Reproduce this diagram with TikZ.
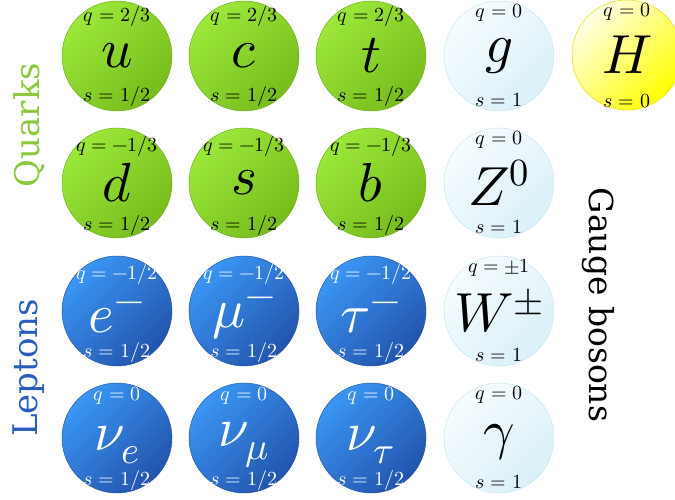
\documentclass[tikz,border=0pt]{standalone}
\usepackage{fontspec}
\usepackage{unicode-math}
\newfontfamily\smGroupFont{DejaVu Serif}
\definecolor{smQuarkLight}{HTML}{9CE83A}
\definecolor{smQuarkDark}{HTML}{76BC1C}
\definecolor{smQuarkEdge}{HTML}{72AE22}
\definecolor{smQuarkText}{HTML}{8CC83C}
\definecolor{smLeptonLight}{HTML}{3A96F4}
\definecolor{smLeptonDark}{HTML}{2254AC}
\definecolor{smLeptonEdge}{HTML}{2458A8}
\definecolor{smLeptonText}{HTML}{2A5CBE}
\definecolor{smBosonLight}{HTML}{F6FCFE}
\definecolor{smBosonDark}{HTML}{DAF0F8}
\definecolor{smBosonEdge}{HTML}{C4E6F4}
\definecolor{smHiggsLight}{HTML}{FFFFE8}
\definecolor{smHiggsDark}{HTML}{FFFF00}
\definecolor{smHiggsEdge}{HTML}{E6DC00}

\begin{document}
\begin{tikzpicture}[x=1pt,y=-1pt,
  ball/.style={circle, minimum size=110pt, inner sep=0pt, line width=0.5pt},
  quark/.style={ball, draw=smQuarkEdge, top color=smQuarkLight, bottom color=smQuarkDark, shading angle=45},
  lepton/.style={ball, draw=smLeptonEdge, top color=smLeptonLight, bottom color=smLeptonDark, shading angle=45},
  boson/.style={ball, draw=smBosonEdge, top color=smBosonLight, bottom color=smBosonDark, shading angle=45},
  higgs/.style={ball, draw=smHiggsEdge, top color=smHiggsLight, bottom color=smHiggsDark, shading angle=45},
  sym/.style={inner sep=0pt, font={\fontsize{55}{60}\selectfont}},
  prop/.style={inner sep=0pt, font={\fontsize{20}{24}\selectfont}},
  group/.style={inner sep=0pt, font={\smGroupFont\fontsize{34}{40}\selectfont}}]
\useasboundingbox (0,0) rectangle (675,500);
% quarks
\node[quark] (u) at (117,56) {};
\node[sym] (uSym) at (u) {$u$};
\node[prop] (uQ) at (117,17) {$q=2/3$};
\node[prop] (uS) at (117,97) {$s=1/2$};
\node[quark] (c) at (244,56) {};
\node[sym] (cSym) at (c) {$c$};
\node[prop] (cQ) at (244,17) {$q=2/3$};
\node[prop] (cS) at (244,97) {$s=1/2$};
\node[quark] (t) at (371,56) {};
\node[sym] (tSym) at (t) {$t$};
\node[prop] (tQ) at (371,17) {$q=2/3$};
\node[prop] (tS) at (371,97) {$s=1/2$};
\node[quark] (d) at (117,183) {};
\node[sym] (dSym) at (d) {$d$};
\node[prop] (dQ) at (117,147) {$q=-1/3$};
\node[prop] (dS) at (117,225) {$s=1/2$};
\node[quark] (s) at (244,183) {};
\node[sym] (sSym) at (s) {$s$};
\node[prop] (sQ) at (244,147) {$q=-1/3$};
\node[prop] (sS) at (244,225) {$s=1/2$};
\node[quark] (b) at (371,183) {};
\node[sym] (bSym) at (b) {$b$};
\node[prop] (bQ) at (371,147) {$q=-1/3$};
\node[prop] (bS) at (371,225) {$s=1/2$};
% leptons
\node[lepton] (e) at (117,311) {};
\node[sym, text=white] (eSym) at (117,318) {$e^-$};
\node[prop, text=white] (eQ) at (117,274) {$q=-1/2$};
\node[prop, text=white] (eS) at (117,352) {$s=1/2$};
\node[lepton] (mu) at (244,311) {};
\node[sym, text=white] (muSym) at (244,318) {$\mu^-$};
\node[prop, text=white] (muQ) at (244,274) {$q=-1/2$};
\node[prop, text=white] (muS) at (244,352) {$s=1/2$};
\node[lepton] (tau) at (371,311) {};
\node[sym, text=white] (tauSym) at (371,318) {$\tau^-$};
\node[prop, text=white] (tauQ) at (371,274) {$q=-1/2$};
\node[prop, text=white] (tauS) at (371,352) {$s=1/2$};
\node[lepton] (nue) at (117,438) {};
\node[sym, text=white] (nueSym) at (117,445) {$\nu_e$};
\node[prop, text=white] (nueQ) at (117,396) {$q=0$};
\node[prop, text=white] (nueS) at (117,480) {$s=1/2$};
\node[lepton] (numu) at (244,438) {};
\node[sym, text=white] (numuSym) at (244,445) {$\nu_\mu$};
\node[prop, text=white] (numuQ) at (244,396) {$q=0$};
\node[prop, text=white] (numuS) at (244,480) {$s=1/2$};
\node[lepton] (nutau) at (371,438) {};
\node[sym, text=white] (nutauSym) at (371,445) {$\nu_\tau$};
\node[prop, text=white] (nutauQ) at (371,396) {$q=0$};
\node[prop, text=white] (nutauS) at (371,480) {$s=1/2$};
% gauge bosons and higgs
\node[boson] (g) at (499,56) {};
\node[sym] (gSym) at (g) {$g$};
\node[prop] (gQ) at (499,13) {$q=0$};
\node[prop] (gS) at (499,100) {$s=1$};
\node[boson] (Z) at (499,183) {};
\node[sym] (ZSym) at (Z) {$Z^0$};
\node[prop] (ZQ) at (499,140) {$q=0$};
\node[prop] (ZS) at (499,227) {$s=1$};
\node[boson] (W) at (499,311) {};
\node[sym] (WSym) at (W) {$W^\pm$};
\node[prop] (WQ) at (499,268) {$q=\pm1$};
\node[prop] (WS) at (499,355) {$s=1$};
\node[boson] (gamma) at (499,438) {};
\node[sym] (gammaSym) at (499,442) {$\gamma$};
\node[prop] (gammaQ) at (499,395) {$q=0$};
\node[prop] (gammaS) at (499,482) {$s=1$};
\node[higgs] (H) at (627,55) {};
\node[sym] (HSym) at (H) {$H$};
\node[prop] (HQ) at (627,12) {$q=0$};
\node[prop] (HS) at (627,101) {$s=0$};
% group names
\node[group, text=smQuarkText, rotate=90] (quarks) at (29,125) {Quarks};
\node[group, text=smLeptonText, rotate=90] (leptons) at (29,368) {Leptons};
\node[group, font={\smGroupFont\fontsize{33}{40}\selectfont}, rotate=-90] (gauge) at (598,305) {Gauge bosons};
\end{tikzpicture}
\end{document}
